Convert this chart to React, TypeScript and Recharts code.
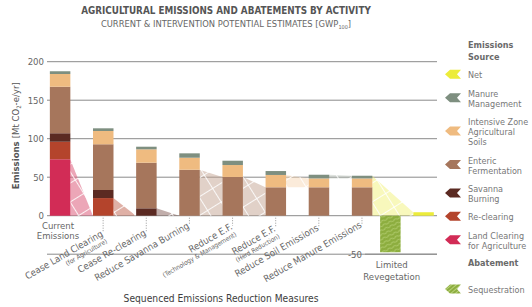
import React from 'react';
import { ComposedChart, Bar, Area, XAxis, YAxis, CartesianGrid, ReferenceLine, ReferenceDot } from 'recharts';

const W = 532;
const H = 307;
const FONT = "'Liberation Sans Narrow', 'DejaVu Sans Condensed', Roboto, sans-serif";

// Mt CO2-e/yr
const measures = ['Current Emissions', 'Cease Land Clearing', 'Cease Re-clearing', 'Reduce Savanna Burning', 'Reduce E.F. (Technology & Management)', 'Reduce E.F. (Herd Reduction)', 'Reduce Soil Emissions', 'Reduce Manure Emissions', 'Limited Revegetation', 'Net'];
const landClearing = [73.2, 0, 0, 0, 0, 0, 0, 0, 0, 0];
const reClearing = [22.9, 22.9, 0, 0, 0, 0, 0, 0, 0, 0];
const savannaBurning = [10.9, 10.5, 9.6, 0, 0, 0, 0, 0, 0, 0];
const entericFermentation = [60.5, 59.3, 59.2, 59.7, 50.3, 36.9, 36.9, 36.9, 0, 0];
const intensiveSoils = [16.5, 17.3, 17.4, 15.6, 15.5, 16, 11.5, 11.5, 0, 0];
const manureManagement = [3.5, 3.5, 3.4, 5.7, 5.6, 5.1, 4.8, 3.5, 0, 0];
const sequestration = [0, 0, 0, 0, 0, 0, 0, 0, -47.5, 0];
const netEmissions = [0, 0, 0, 0, 0, 0, 0, 0, 0, 4.5];
const yTicks = [0, 50, 100, 150, 200];

const xLabels: string[][] = [
  ['Current', 'Emissions'],
  ['Cease Land Clearing', '(for Agriculture)'],
  ['Cease Re-clearing'],
  ['Reduce Savanna Burning'],
  ['Reduce E.F.', '(Technology & Management)'],
  ['Reduce E.F.', '(Herd Reduction)'],
  ['Reduce Soil Emissions'],
  ['Reduce Manure Emissions'],
  ['Limited', 'Revegetation'],
  [],
];

// layout: slot of each bar along the x axis (last two sit closer together)
const slots = [0, 1, 2, 3, 4, 5, 6, 7, 7.655, 8.425];
const X_DOMAIN: [number, number] = [-0.301, 8.739];
const PLOT_W = 390;
const BAR_PX = 20.5;
const HW = BAR_PX / 2 / (PLOT_W / (X_DOMAIN[1] - X_DOMAIN[0]));

const COLORS: Record<string, string> = {
  land: '#d22c56',
  reclear: '#b4442c',
  savanna: '#5b2a22',
  enteric: '#a6765c',
  intensive: '#efbb80',
  manure: '#7e8f80',
  seq: '#8cad3e',
  net: '#ecec3a',
};

const stackOrder = ['land', 'reclear', 'savanna', 'enteric', 'intensive', 'manure'];
const rows = measures.map((m, i) => ({
  name: m,
  x: slots[i],
  land: landClearing[i],
  reclear: reClearing[i],
  savanna: savannaBurning[i],
  enteric: entericFermentation[i],
  intensive: intensiveSoils[i],
  manure: manureManagement[i],
  seq: sequestration[i],
  net: netEmissions[i],
}));

const ribbons = [
  { key: 'land', from: 0, to: 1 },
  { key: 'reclear', from: 1, to: 2 },
  { key: 'savanna', from: 2, to: 3 },
  { key: 'enteric', from: 3, to: 4 },
  { key: 'enteric', from: 4, to: 5 },
  { key: 'intensive', from: 5, to: 6 },
  { key: 'manure', from: 6, to: 7 },
  { key: 'net', from: 7, to: 9 },
];

function rangeAt(i: number, key: string): [number, number] {
  const r: any = rows[i];
  if (key === 'net') {
    const total = stackOrder.reduce((s, k) => s + r[k], 0);
    return [0, i === 9 ? r.net : total];
  }
  let lo = 0;
  for (const k of stackOrder) {
    if (k === key) break;
    lo += r[k];
  }
  return [lo, lo + r[key]];
}

const ribbonOpacity: Record<string, number> = { land: 0.5, reclear: 0.5, savanna: 0.45, enteric: 0.4, intensive: 0.35, manure: 0.3, net: 0.4 };

const labelLayout: any[] = [
  { flat: true, dx: -2, lines: [13.5, 23] },
  { drop: 19 },
  { drop: 18 },
  { drop: 11 },
  { drop: 12 },
  { drop: 14 },
  { drop: 13 },
  { drop: 10 },
  { flat: true, dx: 1.5, lines: [52.5, 64.5] },
  null,
];

const legendItems = [
  { key: 'net', lines: ['Net'] },
  { key: 'manure', lines: ['Manure', 'Management'] },
  { key: 'intensive', lines: ['Intensive Zone', 'Agricultural', 'Soils'] },
  { key: 'enteric', lines: ['Enteric', 'Fermentation'] },
  { key: 'savanna', lines: ['Savanna', 'Burning'] },
  { key: 'reclear', lines: ['Re-clearing'] },
  { key: 'land', lines: ['Land Clearing', 'for Agriculture'] },
];

function HatchPattern({ id, color, opacity }: { id: string; color: string; opacity: number }) {
  const fine = [];
  for (let y = 1; y < 16; y += 2) fine.push(`M0 ${y}H16`);
  return (
    <pattern id={id} patternUnits="userSpaceOnUse" width={16} height={16} patternTransform="rotate(-32)">
      <rect width={16} height={16} fill={color} fillOpacity={opacity} />
      <path d={fine.join(' ')} stroke="#fff" strokeOpacity={0.45} strokeWidth={0.7} />
      <path d="M0 0.5H16 M0.5 0V16" stroke="#fff" strokeOpacity={0.85} strokeWidth={1} />
    </pattern>
  );
}

function XLabel(props: any) {
  const { cx, cy, idx } = props;
  const lay = labelLayout[idx];
  const lines = xLabels[idx];
  if (!lay || !lines.length) return <g />;
  if (lay.flat) {
    return (
      <g fontFamily={FONT} fill="#666" fontSize={9.5}>
        {lines.map((t, k) => (
          <text key={k} x={cx + lay.dx} y={cy + lay.lines[k]} textAnchor="middle">{t}</text>
        ))}
      </g>
    );
  }
  return (
    <g fontFamily={FONT} fill="#666">
      <line x1={cx} y1={cy + 2} x2={cx} y2={cy + lay.drop - 2} stroke="#999" strokeDasharray="1 1.5" />
      <g transform={`translate(${cx + 0.5},${cy + lay.drop + 1}) rotate(-30)`}>
        <text textAnchor="end" fontSize={9.5}>{lines[0]}</text>
        {lines[1] && <text textAnchor="end" y={8} fontSize={6.5}>{lines[1]}</text>}
      </g>
    </g>
  );
}

function YLabel(props: any) {
  const vb = props.viewBox || { x: 0, y: 0 };
  const x = vb.x + 19;
  const y = vb.y + 74;
  return (
    <text transform={`translate(${x},${y}) rotate(-90)`} textAnchor="middle" fontFamily={FONT} fill="#555" fontSize={9.5}>
      <tspan fontWeight="bold">Emissions </tspan>
      <tspan>[Mt CO</tspan>
      <tspan fontSize={6} dy={2}>2</tspan>
      <tspan dy={-2}>-e/yr]</tspan>
    </text>
  );
}

function Overlay() {
  let base = 78.3;
  const items = legendItems.map((it) => {
    const b = base;
    base += it.lines.length * 10 + 8.4;
    return { ...it, b };
  });
  const icon = (x: number, y: number, color: string, fill?: string) => (
    <polygon
      points={`${x},${y} ${x + 5},${y - 4.5} ${x + 16},${y - 4.5} ${x + 12},${y} ${x + 16},${y + 4.5} ${x + 5},${y + 4.5}`}
      fill={fill || color}
    />
  );
  return (
    <svg width={W} height={H} style={{ position: 'absolute', left: 0, top: 0, pointerEvents: 'none' }} fontFamily={FONT}>
      <text x={226} y={14} textAnchor="middle" fontWeight="bold" fontSize={9.8} fill="#555">AGRICULTURAL EMISSIONS AND ABATEMENTS BY ACTIVITY</text>
      <text x={226} y={27.3} textAnchor="middle" fontSize={9.3} fill="#666">
        CURRENT &amp; INTERVENTION POTENTIAL ESTIMATES [GWP<tspan fontSize={5.5} dy={1.5}>100</tspan><tspan dy={-1.5}>]</tspan>
      </text>
      <text x={221} y={301.5} textAnchor="middle" fontSize={10.2} fill="#3d3d3d">Sequenced Emissions Reduction Measures</text>

      <g fontSize={9} fill="#777">
        <text x={468} y={48.3} fontWeight="bold" fill="#6a6a6a">Emissions</text>
        <text x={468} y={60} fontWeight="bold" fill="#6a6a6a">Source</text>
        {items.map((it) => (
          <g key={it.key}>
            {icon(445, it.b - 4 + (it.lines.length - 1) * 5, COLORS[it.key])}
            {it.lines.map((t, k) => (
              <text key={k} x={468} y={it.b + k * 10}>{t}</text>
            ))}
          </g>
        ))}
        <text x={468} y={266} fontWeight="bold" fill="#6a6a6a">Abatement</text>
        {icon(445, 289, COLORS.seq, 'url(#seqLegend)')}
        <text x={468} y={293.3}>Sequestration</text>
      </g>
      <defs>
        <pattern id="seqLegend" patternUnits="userSpaceOnUse" width={3} height={3} patternTransform="rotate(-40)">
          <rect width={3} height={3} fill={COLORS.seq} />
          <path d="M0 1.5H3" stroke="#c4d98a" strokeWidth={0.8} />
        </pattern>
      </defs>
    </svg>
  );
}

export default function App() {
  return (
    <div style={{ position: 'absolute', left: 0, top: 0, width: W, height: H, background: '#fff' }}>
      <ComposedChart width={W} height={H} data={rows} margin={{ top: 61.7, right: 95, bottom: 52.8, left: 0 }}>
        <defs>
          {Object.keys(ribbonOpacity).map((k) => (
            <HatchPattern key={k} id={`rib-${k}`} color={COLORS[k]} opacity={ribbonOpacity[k]} />
          ))}
          <pattern id="seqBar" patternUnits="userSpaceOnUse" width={6} height={4} patternTransform="rotate(-25)">
            <rect width={6} height={4} fill={COLORS.seq} />
            <path d="M0 2 Q1.5 0.8 3 2 T6 2" stroke="#bcd47c" strokeWidth={0.8} fill="none" />
          </pattern>
        </defs>
        <CartesianGrid vertical={false} stroke="#8a8a8a" strokeWidth={1} />
        <XAxis xAxisId="bars" dataKey="x" type="number" domain={X_DOMAIN} allowDataOverflow hide />
        <XAxis xAxisId="ribbons" dataKey="x" type="number" domain={X_DOMAIN} allowDataOverflow hide />
        <YAxis
          type="number"
          domain={[-50, 200]}
          ticks={yTicks}
          width={47}
          axisLine={false}
          tickLine={false}
          tickSize={0}
          tickMargin={3}
          tick={{ fontSize: 9.5, fill: '#666', fontFamily: FONT }}
          label={{ content: (p: any) => <YLabel {...p} /> }}
        />
        <ReferenceLine
          xAxisId="bars"
          segment={[{ x: 7.07, y: -50 }, { x: X_DOMAIN[1], y: -50 }]}
          stroke="#8a8a8a"
          label={{ value: '-50', position: 'left', offset: 3, fontSize: 9.5, fill: '#666', fontFamily: FONT }}
        />
        {ribbons.map((rb, n) => (
          <Area
            key={n}
            xAxisId="ribbons"
            data={[
              { x: slots[rb.from] + HW, v: rangeAt(rb.from, rb.key) },
              { x: slots[rb.to] - HW, v: rangeAt(rb.to, rb.key) },
            ]}
            dataKey="v"
            type="linear"
            stroke="none"
            fill={`url(#rib-${rb.key})`}
            fillOpacity={1}
            dot={false}
            activeDot={false}
            isAnimationActive={false}
          />
        ))}
        <Bar xAxisId="bars" dataKey="land" stackId="a" fill={COLORS.land} barSize={BAR_PX} isAnimationActive={false} />
        <Bar xAxisId="bars" dataKey="reclear" stackId="a" fill={COLORS.reclear} barSize={BAR_PX} isAnimationActive={false} />
        <Bar xAxisId="bars" dataKey="savanna" stackId="a" fill={COLORS.savanna} barSize={BAR_PX} isAnimationActive={false} />
        <Bar xAxisId="bars" dataKey="enteric" stackId="a" fill={COLORS.enteric} barSize={BAR_PX} isAnimationActive={false} />
        <Bar xAxisId="bars" dataKey="intensive" stackId="a" fill={COLORS.intensive} barSize={BAR_PX} isAnimationActive={false} />
        <Bar xAxisId="bars" dataKey="manure" stackId="a" fill={COLORS.manure} barSize={BAR_PX} isAnimationActive={false} />
        <Bar xAxisId="bars" dataKey="seq" stackId="a" fill="url(#seqBar)" barSize={BAR_PX} isAnimationActive={false} />
        <Bar xAxisId="bars" dataKey="net" stackId="a" fill={COLORS.net} barSize={BAR_PX} isAnimationActive={false} />
        {slots.map((s, i) => (
          <ReferenceDot key={i} xAxisId="bars" x={s} y={0} r={0} shape={(p: any) => <XLabel {...p} idx={i} />} />
        ))}
      </ComposedChart>
      <Overlay />
    </div>
  );
}
